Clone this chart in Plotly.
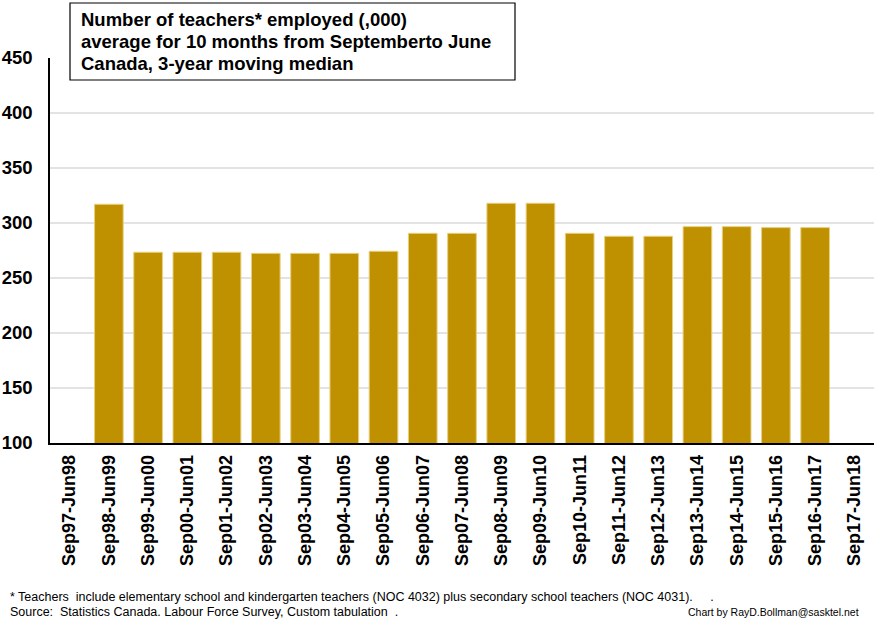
import plotly.graph_objects as go

categories = ["Sep97-Jun98", "Sep98-Jun99", "Sep99-Jun00", "Sep00-Jun01", "Sep01-Jun02",
              "Sep02-Jun03", "Sep03-Jun04", "Sep04-Jun05", "Sep05-Jun06", "Sep06-Jun07",
              "Sep07-Jun08", "Sep08-Jun09", "Sep09-Jun10", "Sep10-Jun11", "Sep11-Jun12",
              "Sep12-Jun13", "Sep13-Jun14", "Sep14-Jun15", "Sep15-Jun16", "Sep16-Jun17",
              "Sep17-Jun18"]
teachers = [None, 317, 273.4, 273.4, 273.4, 272.4, 272.4, 272.4, 274.3, 290.6,
            290.6, 317.9, 317.9, 290.6, 287.9, 287.9, 296.7, 296.7, 295.8, 295.8, None]

title_lines = ["Number of teachers* employed (,000)",
               "average for 10 months from Septemberto June",
               "Canada, 3-year moving median"]
foot1 = "* Teachers  include elementary school and kindergarten teachers (NOC 4032) plus secondary school teachers (NOC 4031).     ."
foot2 = "Source:  Statistics Canada. Labour Force Survey, Custom tabulation  ."
credit = "Chart by RayD.Bollman@sasktel.net"

FONT = "Liberation Sans, Arial, sans-serif"

fig = go.Figure(go.Bar(
    x=categories, y=teachers,
    marker=dict(color="#BF9000", line=dict(color="#E8CF7A", width=1)),
    width=0.73,
))

L, T, B = 50, 58, 181
PW, PH = 824, 385

def px(xp):
    return (xp - L) / PW

def py(yp):
    return (T + PH - yp) / PH

annotations = []
for i, (line, yc) in enumerate(zip(title_lines, [20, 42, 63])):
    annotations.append(dict(
        text="<b>" + line + "</b>", xref="paper", yref="paper", x=px(79), y=py(yc),
        xanchor="left", yanchor="middle", align="left", showarrow=False,
        font=dict(family=FONT, size=18.5, color="black")))

annotations += [
    dict(text=foot1, xref="paper", yref="paper", x=px(8), y=py(597),
         xanchor="left", yanchor="middle", showarrow=False,
         font=dict(family=FONT, size=12.5, color="black")),
    dict(text=foot2, xref="paper", yref="paper", x=px(8), y=py(612),
         xanchor="left", yanchor="middle", showarrow=False,
         font=dict(family=FONT, size=12.5, color="black")),
    dict(text=credit, xref="paper", yref="paper", x=px(861), y=py(612),
         xanchor="right", yanchor="middle", showarrow=False,
         font=dict(family=FONT, size=10.5, color="black")),
]

fig.update_layout(
    width=874, height=624,
    margin=dict(l=L, r=0, t=T, b=B, autoexpand=False),
    plot_bgcolor="white", paper_bgcolor="white",
    showlegend=False,
    font=dict(family=FONT, color="black"),
    xaxis=dict(
        type="category", tickangle=-90, showgrid=False,
        showline=True, linecolor="black", linewidth=1.5,
        ticks="", ticklabelstandoff=3,
        tickfont=dict(family=FONT, size=18, weight="bold", color="black"),
        range=[-0.5, 20.5],
    ),
    yaxis=dict(
        range=[100, 450], dtick=50, tick0=100,
        showgrid=True, gridcolor="#E3E3E3", gridwidth=1.5,
        showline=True, linecolor="black", linewidth=1.5,
        ticks="", ticklabelstandoff=12,
        zeroline=False,
        tickfont=dict(family=FONT, size=18.5, weight="bold", color="black"),
    ),
    shapes=[dict(type="rect", xref="paper", yref="paper",
                 x0=px(70), x1=px(515), y0=py(80), y1=py(3),
                 line=dict(color="black", width=1.2), fillcolor="white", layer="above")],
    annotations=annotations,
)

fig.write_html("out.html")
